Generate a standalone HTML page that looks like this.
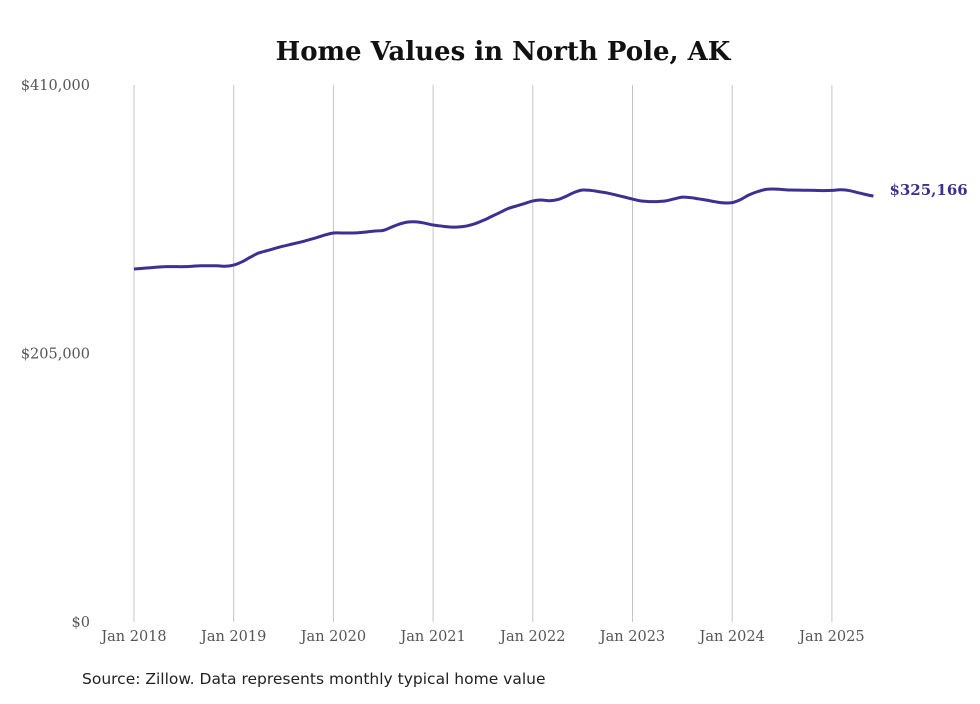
<!DOCTYPE html>
<html><head><meta charset="utf-8"><style>
body{margin:0;background:#fff;}
svg text{font-family:"DejaVu Serif","Liberation Serif",serif;}
</style></head><body>
<svg width="980" height="699" viewBox="0 0 980 699" xmlns="http://www.w3.org/2000/svg">
<text x="503" y="60" text-anchor="middle" font-size="26" font-weight="bold" fill="#111">Home Values in North Pole, AK</text>
<g id="grid"></g><g id="yaxis"></g><g id="xaxis"></g>
<path id="line" fill="none" stroke="#3b3191" stroke-width="3" stroke-linejoin="round"/>
<text id="endlabel" font-size="15" font-weight="bold" fill="#3b3191"></text>
<text x="82" y="684" font-size="15.5" fill="#222" style="font-family:'DejaVu Sans','Liberation Sans',sans-serif">Source: Zillow. Data represents monthly typical home value</text>
</svg>
<script>
const yTicks=[0,205000,410000];
const yTickLabels=["$0","$205,000","$410,000"];
const xTickYears=[2018,2019,2020,2021,2022,2023,2024,2025];
const xTickLabels=["Jan 2018","Jan 2019","Jan 2020","Jan 2021","Jan 2022","Jan 2023","Jan 2024","Jan 2025"];
const values=[
269.5,270,270.5,271,271.3,271.3,271.3,271.6,272,272,272,271.6,
272.5,275,278.5,281.7,283.5,285.3,287,288.5,290,291.7,293.5,295.5,
297,297,297,297.2,297.8,298.5,299,301.5,303.9,305.4,305.5,304.5,
303.1,302.3,301.6,301.6,302.3,304,306.5,309.5,312.5,315.6,317.6,319.5,
321.5,322.2,321.6,322.5,325,328,329.8,329.5,328.5,327.5,326,324.5,
322.9,321.5,321,321,321.5,323,324.4,324,323,322,320.8,320,
320.2,322.5,326,328.5,330.2,330.6,330.2,329.8,329.7,329.6,329.5,329.4,
329.5,330,329.5,328,326.5,325.166];
const latestLabel="$325,166";
const NS="http://www.w3.org/2000/svg";
const x0=134,pxYear=99.7,yTop=85,yBot=622,yMax=410000;
const xs=i=>x0+i*pxYear/12;
const ys=v=>yBot-(v/yMax)*(yBot-yTop);
function mk(t,a,p){const e=document.createElementNS(NS,t);for(const k in a)e.setAttribute(k,a[k]);p.appendChild(e);return e;}
const grid=document.getElementById('grid'),ya=document.getElementById('yaxis'),xa=document.getElementById('xaxis');
yTicks.forEach((v,i)=>{const t=mk('text',{x:90,y:ys(v)+5,'text-anchor':'end','font-size':14.5,fill:'#555'},ya);t.textContent=yTickLabels[i];

});
xTickYears.forEach((yr,i)=>{const x=xs((yr-2018)*12);
const l=mk('line',{x1:x,x2:x,y1:yTop,y2:yBot,stroke:'#c4c4c4','stroke-width':1},grid);


const t=mk('text',{x:x,y:641,'text-anchor':'middle','font-size':14.5,fill:'#555'},xa);t.textContent=xTickLabels[i];

});
const pts=values.map((v,i)=>[xs(i),ys(v*1000)]);
let d='M'+pts[0][0]+','+pts[0][1];
for(let i=0;i<pts.length-1;i++){const p0=pts[Math.max(0,i-1)],p1=pts[i],p2=pts[i+1],p3=pts[Math.min(pts.length-1,i+2)];
d+=' C'+(p1[0]+(p2[0]-p0[0])/6)+','+(p1[1]+(p2[1]-p0[1])/6)+' '+(p2[0]-(p3[0]-p1[0])/6)+','+(p2[1]-(p3[1]-p1[1])/6)+' '+p2[0]+','+p2[1];}
document.getElementById('line').setAttribute('d',d);
const lab=document.getElementById('endlabel');const last=pts[pts.length-1];
lab.setAttribute('x',last[0]+16);lab.setAttribute('y',last[1]-1);lab.textContent=latestLabel;
</script>
</body></html>
